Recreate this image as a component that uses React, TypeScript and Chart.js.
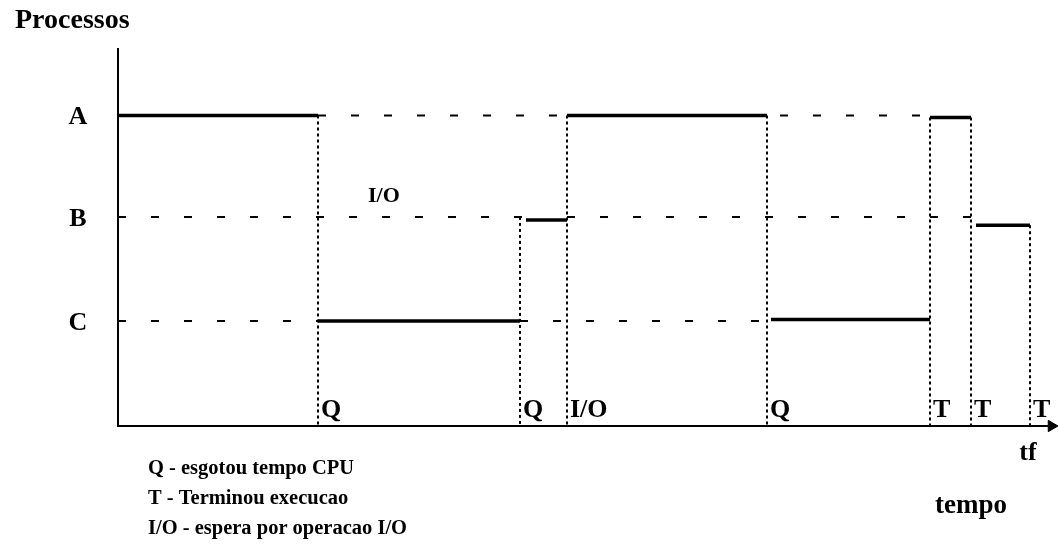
import React, { useEffect, useRef } from "react";
import { Chart, registerables } from "chart.js";

Chart.register(...registerables);

// Processes (levels on the vertical axis)
const processNames = ["A", "B", "C"];
const processLevels = [3, 2.02, 1.015];

// CPU occupation segments (time units)
const segProcess = ["A", "C", "B", "A", "C", "A", "B"];
const segStart = [0, 20, 40.8, 44.9, 65.3, 81.2, 85.8];
const segEnd = [20, 40.2, 44.9, 64.9, 81.2, 85.3, 91.2];
const segLevel = [3.0, 1.015, 1.99, 3.0, 1.03, 2.98, 1.94];

// Events (end of each segment)
const eventTimes = [20, 40.2, 44.9, 64.9, 81.2, 85.3, 91.2];
const eventLabels = ["Q", "Q", "I/O", "Q", "T", "T", "T"];
const eventTop = [3.0, 2.02, 3.0, 3.0, 2.98, 2.98, 1.94];

// Waiting (dashed) guide lines
const guideLevel = [3.0, 2.02, 2.02, 1.015, 1.015];
const guideStart = [20, 0, 44.9, 0, 40.2];
const guideEnd = [81.2, 40.4, 85.3, 20, 64.9];

// Annotation for I/O wait
const ioNoteTime = 25;
const ioNoteLevel = 2.23;

// Axis extents
const timeMax = 94;
const levelMax = 3.652;
const tfTime = 91.2;

// Legend texts
const legendLines = [
  "Q - esgotou tempo CPU",
  "T - Terminou execucao",
  "I/O - espera por operacao I/O",
];
const titleText = "Processos";
const xTitleText = "tempo";
const tfText = "tf";

const FONT = '"Liberation Serif", "Times New Roman", serif';

export default function App() {
  const canvasRef = useRef<HTMLCanvasElement | null>(null);

  useEffect(() => {
    const canvas = canvasRef.current;
    if (!canvas) return;

    const datasets: any[] = [];

    // Axes
    datasets.push({
      data: [
        { x: 0, y: -0.01 },
        { x: 0, y: levelMax },
      ],
      borderColor: "#000",
      borderWidth: 2,
      pointRadius: 0,
      showLine: true,
      clip: false,
    });
    datasets.push({
      data: [
        { x: 0, y: 0 },
        { x: timeMax - 1, y: 0 },
      ],
      borderColor: "#000",
      borderWidth: 2,
      pointRadius: 0,
      showLine: true,
      clip: false,
    });
    // Arrow head
    datasets.push({
      data: [{ x: timeMax - 0.65, y: 0 }],
      pointStyle: "triangle",
      rotation: 90,
      pointRadius: 6.5,
      pointBackgroundColor: "#000",
      pointBorderColor: "#000",
      pointBorderWidth: 1,
      showLine: false,
      clip: false,
    });

    // Dashed guides
    for (let i = 0; i < guideLevel.length; i++) {
      datasets.push({
        data: [
          { x: guideStart[i], y: guideLevel[i] },
          { x: guideEnd[i], y: guideLevel[i] },
        ],
        borderColor: "#000",
        borderWidth: 2,
        borderDash: [8, 25],
        pointRadius: 0,
        showLine: true,
        clip: false,
      });
    }

    // Dotted event lines
    for (let i = 0; i < eventTimes.length; i++) {
      datasets.push({
        data: [
          { x: eventTimes[i], y: eventTop[i] },
          { x: eventTimes[i], y: 0 },
        ],
        borderColor: "#000",
        borderWidth: 2,
        borderDash: [3, 3],
        pointRadius: 0,
        showLine: true,
        clip: false,
      });
    }

    // Solid segments
    for (let i = 0; i < segStart.length; i++) {
      datasets.push({
        label: segProcess[i],
        data: [
          { x: segStart[i], y: segLevel[i] },
          { x: segEnd[i], y: segLevel[i] },
        ],
        borderColor: "#000",
        borderWidth: 3.5,
        pointRadius: 0,
        showLine: true,
        clip: false,
      });
    }

    const textPlugin = {
      id: "texts",
      afterDraw(chart: any) {
        const ctx = chart.ctx as CanvasRenderingContext2D;
        const xs = chart.scales.x;
        const ys = chart.scales.y;
        ctx.save();
        ctx.fillStyle = "#000";
        ctx.textBaseline = "alphabetic";
        ctx.textAlign = "left";

        // Title
        ctx.font = `bold 28px ${FONT}`;
        ctx.fillText(titleText, 15, 28);

        // Process labels
        ctx.font = `bold 26px ${FONT}`;
        ctx.textAlign = "center";
        for (let i = 0; i < processNames.length; i++) {
          const y = ys.getPixelForValue(processLevels[i]);
          ctx.fillText(processNames[i], 78, y + 9);
        }

        ctx.textAlign = "left";
        ctx.font = `bold 22px ${FONT}`;
        // I/O note
        ctx.fillText(
          "I/O",
          xs.getPixelForValue(ioNoteTime),
          ys.getPixelForValue(ioNoteLevel) + 7
        );

        // Event labels
        const y0 = ys.getPixelForValue(0);
        ctx.font = `bold 26px ${FONT}`;
        for (let i = 0; i < eventTimes.length; i++) {
          ctx.fillText(eventLabels[i], xs.getPixelForValue(eventTimes[i]) + 3, y0 - 9);
        }

        // tf and tempo
        ctx.textAlign = "center";
        ctx.fillText(tfText, xs.getPixelForValue(tfTime) - 2, y0 + 34);
        ctx.font = `bold 27px ${FONT}`;
        ctx.fillText(xTitleText, xs.getPixelForValue(tfTime) - 59, y0 + 87);

        // Legend
        ctx.font = `bold 20.5px ${FONT}`;
        ctx.textAlign = "left";
        for (let i = 0; i < legendLines.length; i++) {
          ctx.fillText(legendLines[i], 148, y0 + 48 + i * 30);
        }
        ctx.restore();
      },
    };

    const chart = new Chart(canvas, {
      type: "scatter",
      data: { datasets },
      options: {
        animation: false,
        responsive: false,
        events: [],
        layout: {
          autoPadding: false,
          padding: { left: 118, right: 1, top: 48, bottom: 133 },
        },
        plugins: {
          legend: { display: false },
          tooltip: { enabled: false },
        },
        scales: {
          x: { type: "linear", min: 0, max: timeMax, display: false },
          y: { type: "linear", min: 0, max: levelMax, display: false },
        },
      },
      plugins: [textPlugin],
    });

    return () => chart.destroy();
  }, []);

  return (
    <div
      style={{
        position: "absolute",
        left: 0,
        top: 0,
        width: 1059,
        height: 559,
        background: "#fff",
      }}
    >
      <canvas ref={canvasRef} width={1059} height={559} />
    </div>
  );
}
